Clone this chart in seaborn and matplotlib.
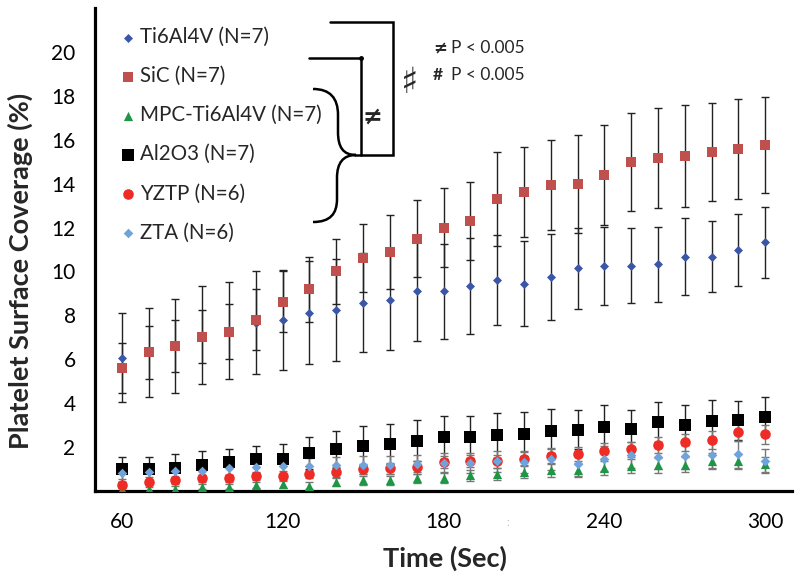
import matplotlib
matplotlib.use("Agg")
import matplotlib.pyplot as plt
from matplotlib.path import Path
from matplotlib.patches import PathPatch
from matplotlib.lines import Line2D
import seaborn as sns
import pandas as pd

# sampling times (sec)
time_s = [60, 70, 80, 90, 100, 110, 120, 130, 140, 150, 160, 170, 180,
          190, 200, 210, 220, 230, 240, 250, 260, 270, 280, 290, 300]

# mean platelet surface coverage (%) and SD
ti_mean = [6.07, 6.31, 6.61, 7.11, 7.32, 7.67, 7.80, 8.13, 8.26, 8.58, 8.68, 9.13, 9.09,
           9.32, 9.59, 9.45, 9.73, 10.14, 10.23, 10.27, 10.32, 10.68, 10.68, 10.96, 11.32]
ti_sd = [2.03, 2.03, 2.15, 2.24, 2.20, 2.33, 2.28, 2.33, 2.33, 2.24, 2.24, 2.28, 2.15,
         2.19, 2.05, 1.92, 1.96, 1.83, 1.78, 1.69, 1.69, 1.76, 1.60, 1.64, 1.62]

sic_mean = [5.60, 6.31, 6.61, 7.03, 7.25, 7.81, 8.63, 9.18, 10.00, 10.60, 10.87, 11.50, 12.00,
            12.28, 13.29, 13.60, 13.93, 13.97, 14.38, 14.98, 15.16, 15.25, 15.43, 15.57, 15.75]
sic_sd = [1.15, 1.20, 1.20, 1.20, 1.26, 1.37, 1.37, 1.46, 1.46, 1.55, 1.69, 1.74, 1.78,
          1.78, 2.15, 2.05, 2.05, 2.24, 2.28, 2.24, 2.28, 2.33, 2.24, 2.28, 2.19]

mpc_mean = [0.08, 0.08, 0.11, 0.19, 0.19, 0.27, 0.30, 0.24, 0.39, 0.49, 0.49, 0.57, 0.60,
            0.72, 0.77, 0.88, 0.95, 0.97, 1.05, 1.12, 1.18, 1.20, 1.36, 1.35, 1.22]
mpc_sd = [0.10, 0.10, 0.10, 0.12, 0.12, 0.15, 0.15, 0.15, 0.18, 0.20, 0.20, 0.22, 0.25,
          0.25, 0.28, 0.28, 0.30, 0.30, 0.32, 0.32, 0.34, 0.34, 0.35, 0.35, 0.35]

al_mean = [0.98, 0.98, 1.06, 1.18, 1.30, 1.44, 1.45, 1.74, 1.90, 2.05, 2.15, 2.29, 2.44,
           2.47, 2.54, 2.60, 2.73, 2.80, 2.93, 2.84, 3.14, 3.00, 3.20, 3.22, 3.38]
al_sd = [0.58, 0.58, 0.61, 0.64, 0.61, 0.62, 0.71, 0.72, 0.85, 0.93, 0.90, 0.93, 0.98,
         0.95, 1.02, 1.00, 1.02, 0.90, 0.99, 0.84, 0.91, 0.92, 0.96, 0.90, 0.89]

yztp_mean = [0.27, 0.39, 0.49, 0.57, 0.57, 0.69, 0.69, 0.77, 0.88, 1.00, 1.03, 1.10, 1.33,
             1.36, 1.36, 1.48, 1.61, 1.68, 1.82, 1.90, 2.09, 2.21, 2.32, 2.70, 2.58]
yztp_sd = [0.12, 0.12, 0.15, 0.15, 0.18, 0.18, 0.20, 0.20, 0.22, 0.22, 0.25, 0.25, 0.28,
           0.28, 0.30, 0.30, 0.32, 0.32, 0.35, 0.35, 0.38, 0.38, 0.40, 0.40, 0.42]

zta_mean = [0.80, 0.88, 0.90, 0.90, 1.03, 1.10, 1.15, 1.15, 1.18, 1.18, 1.18, 1.21, 1.26,
            1.26, 1.36, 1.30, 1.44, 1.24, 1.48, 1.64, 1.56, 1.59, 1.64, 1.68, 1.37]
zta_sd = [0.25, 0.25, 0.28, 0.28, 0.30, 0.32, 0.35, 0.35, 0.38, 0.40, 0.40, 0.42, 0.45,
          0.45, 0.48, 0.50, 0.50, 0.60, 0.55, 0.60, 0.58, 0.60, 0.60, 0.62, 0.55]

labels = ["Ti6Al4V (N=7)", "SiC (N=7)", "MPC-Ti6Al4V (N=7)",
          "Al2O3 (N=7)", "YZTP (N=6)", "ZTA (N=6)"]
y_ticks = [2, 4, 6, 8, 10, 12, 14, 16, 18, 20]
x_ticks = [60, 120, 180, 240, 300]

series = [
    (ti_mean, ti_sd, "#3B56A6", "D", 21, "#222222"),
    (sic_mean, sic_sd, "#C0504D", "s", 58, "#222222"),
    (mpc_mean, mpc_sd, "#1E9646", "^", 44, "#777777"),
    (al_mean, al_sd, "#000000", "s", 68, "#222222"),
    (yztp_mean, yztp_sd, "#EE2B24", "o", 58, "#777777"),
    (zta_mean, zta_sd, "#6FA3DC", "D", 24, "#777777"),
]

sns.set_theme(style="white")
plt.rcParams["font.family"] = ["Lato", "DejaVu Sans"]

W, H = 800, 582
fig = plt.figure(figsize=(W / 100, H / 100), dpi=100)
ax = fig.add_axes([95 / W, 1 - 491 / H, 697 / W, 483 / H])

for lab, (m, sd, col, mk, sz, ecol) in zip(labels, series):
    df = pd.DataFrame({"time": time_s, "cov": m, "sd": sd})
    ax.errorbar(df["time"], df["cov"], yerr=df["sd"], fmt="none", ecolor=ecol,
                elinewidth=1.0, capsize=3, capthick=1.0, zorder=2)
    sns.scatterplot(data=df, x="time", y="cov", color=col, marker=mk, s=sz,
                    linewidth=0, label=lab, zorder=3, ax=ax)

ax.set_xlim(50, 310)
ax.set_ylim(0, 22)
ax.set_xticks(x_ticks)
ax.set_yticks(y_ticks)
ax.tick_params(axis="both", length=0, labelsize=15, colors="black")
ax.tick_params(axis="y", pad=14)
ax.tick_params(axis="x", pad=15)
for s in ["top", "right"]:
    ax.spines[s].set_visible(False)
for s in ["left", "bottom"]:
    ax.spines[s].set_color("black")
    ax.spines[s].set_linewidth(2.3)
ax.set_xlabel("")
ax.set_ylabel("")

fig.text(20 / W, 1 - 271 / H, "Platelet Surface Coverage (%)", rotation=90,
         ha="center", va="center", fontsize=19.5, fontweight="bold")
fig.text(445 / W, 1 - 558 / H, "Time (Sec)", ha="center", va="center",
         fontsize=19.5, fontweight="bold")
fig.text(508 / W, 1 - 523 / H, ":", ha="center", va="center", fontsize=8, color="#bbbbbb")

handles, labs = ax.get_legend_handles_labels()
ax.legend(handles, labs, loc="upper left", frameon=False, fontsize=14.8,
          bbox_to_anchor=(122 / W, 1 - 27 / H), bbox_transform=fig.transFigure,
          borderpad=0, labelspacing=0.93, handlelength=0.6, handletextpad=0.3,
          borderaxespad=0)

# significance brackets
def px(x, y):
    return (x / W, 1 - y / H)

def line(pts, lw=1.8):
    xs = [p[0] / W for p in pts]
    ys = [1 - p[1] / H for p in pts]
    fig.add_artist(Line2D(xs, ys, color="black", lw=lw, transform=fig.transFigure,
                          solid_joinstyle="miter"))

line([(309, 58), (361, 58), (361, 155)])
line([(330, 22), (393, 22), (393, 155), (355, 155)])
fig.add_artist(Line2D([361 / W], [1 - 58 / H], marker="o", ms=2.5, color="black",
                      transform=fig.transFigure))

verts = [(313, 89), (330, 89), (338, 98), (338, 115),
         (338, 132),
         (338, 147), (343, 155), (356, 155),
         (343, 155), (337, 163), (337, 178),
         (337, 199),
         (337, 214), (330, 222), (313, 222)]
codes = [Path.MOVETO, Path.CURVE4, Path.CURVE4, Path.CURVE4,
         Path.LINETO,
         Path.CURVE4, Path.CURVE4, Path.CURVE4,
         Path.CURVE4, Path.CURVE4, Path.CURVE4,
         Path.LINETO,
         Path.CURVE4, Path.CURVE4, Path.CURVE4]
brace = Path([px(x, y) for x, y in verts], codes)
fig.add_artist(PathPatch(brace, fill=False, lw=1.8, edgecolor="black",
                         transform=fig.transFigure))

fig.text(372 / W, 1 - 117 / H, "≠", ha="center", va="center", fontsize=17,
         fontweight="bold", family=["DejaVu Sans"])
fig.text(410 / W, 1 - 83 / H, "♯", ha="center", va="center", fontsize=26,
         fontweight="bold", family=["DejaVu Sans"])
fig.text(433 / W, 1 - 48 / H, "≠", ha="left", va="center", fontsize=12,
         fontweight="bold", family=["DejaVu Sans"])
fig.text(451 / W, 1 - 48 / H, "P < 0.005", ha="left", va="center", fontsize=12.5)
fig.text(433 / W, 1 - 75 / H, "#", ha="left", va="center", fontsize=12.5,
         fontweight="bold")
fig.text(451 / W, 1 - 75 / H, "P < 0.005", ha="left", va="center", fontsize=12.5)

fig.savefig("out.png", dpi=100)
